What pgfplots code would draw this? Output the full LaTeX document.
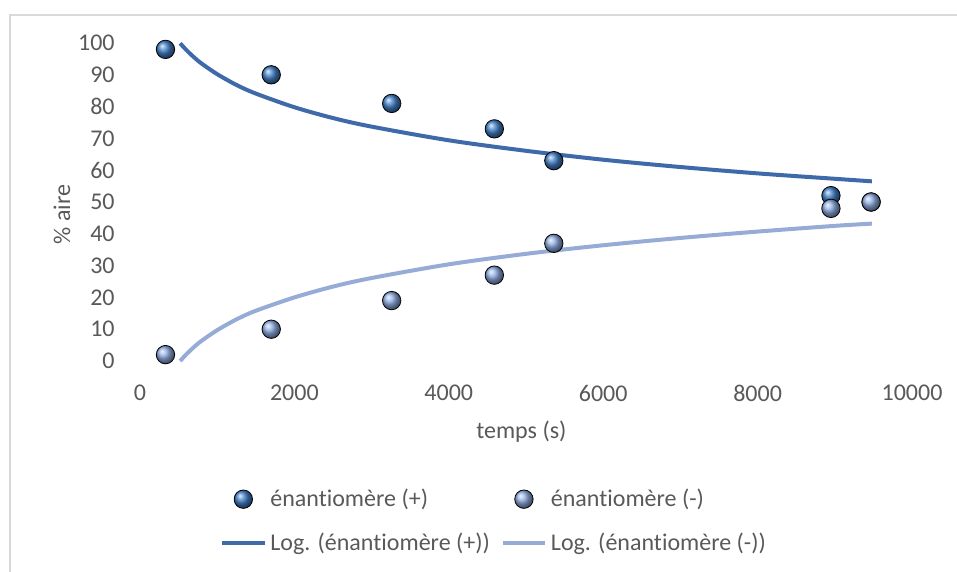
\documentclass[border=0pt]{standalone}
\usepackage{pgfplots}
\pgfplotsset{compat=1.18}
\usepackage{fontspec}
\setmainfont{Carlito}[Ligatures=NoCommon]
\definecolor{txt}{RGB}{89,89,89}
\definecolor{frame}{RGB}{217,217,217}
\definecolor{dkblue}{RGB}{62,106,170}
\definecolor{ltblue}{RGB}{150,172,214}
\definecolor{balldk}{RGB}{66,128,200}
\definecolor{balllt}{RGB}{145,175,228}
\begin{document}
\begin{tikzpicture}
\begin{scope}[x=0.5pt,y=-0.5pt]
\path[use as bounding box] (0,0) rectangle (957,572);
\draw[frame, line width=1pt] (10,572) -- (10,15) -- (957,15);
\end{scope}
\begin{axis}[
  at={(70pt,-180.5pt)}, anchor=south west,
  scale only axis, width=386pt, height=159pt,
  xmin=0, xmax=10000, ymin=0, ymax=100,
  xtick={0,2000,...,10000}, ytick={0,10,...,100},
  scaled x ticks=false,
  axis line style={draw=none}, major tick length=0pt,
  clip=false,
  font=\fontsize{12}{14.4}\selectfont, /pgf/number format/assume math mode=true,
  /pgf/number format/set thousands separator={},
  ticklabel style={text=txt},
  xticklabel style={anchor=north, inner sep=0pt, yshift=-12pt},
  yticklabel style={anchor=east, inner sep=0pt, xshift=-12.5pt},
  xlabel={temps (s)}, ylabel={\% aire},
  label style={text=txt},
  xlabel style={at={(axis description cs:0.494,-0.223)}, anchor=center},
  ylabel style={at={(axis description cs:-0.101,0.46)}, anchor=center},
  legend columns=2, legend cell align=left,
  legend image code/.code={\draw[mark repeat=2,mark phase=2,#1] plot coordinates {(0pt,0pt) (10.5pt,0pt) (21pt,0pt)};},
  legend style={at={(axis description cs:0.46,-0.503)}, anchor=center, draw=none, fill=none,
    text=txt, font=\fontsize{12}{14.4}\selectfont,
    /tikz/every even column/.append style={column sep=3.5pt}, row sep=7.5pt},
]
\addplot[only marks, mark=ball, mark size=4.6pt, ball color=balldk] coordinates {
(330,98) (1700,90) (3260,81) (4590,73) (5360,63) (8950,52) (9470,50)};
\addlegendentry{énantiomère (+)}
\addplot[only marks, mark=ball, mark size=4.6pt, ball color=balllt] coordinates {
(330,2) (1700,10) (3260,19) (4590,27) (5360,37) (8950,48) (9470,50)};
\addlegendentry{énantiomère (-)}
\addplot[dkblue, line width=2pt, no marks, smooth] coordinates {
(520,99.9) (600,97.8) (700,95.5) (800,93.5) (1000,90.2) (1250,86.8) (1500,84.1) (2000,79.8) (2500,76.4) (3000,73.7) (4000,69.4) (5000,66.1) (6000,63.3) (7000,61.0) (8000,59.0) (9000,57.3) (9480,56.5)};
\addlegendentry{Log. (énantiomère (+))}
\addplot[ltblue, line width=2pt, no marks, smooth] coordinates {
(520,0.0) (600,2.1) (700,4.4) (800,6.4) (1000,9.7) (1250,13.1) (1500,15.8) (2000,20.0) (2500,23.4) (3000,26.1) (4000,30.4) (5000,33.7) (6000,36.4) (7000,38.7) (8000,40.7) (9000,42.5) (9480,43.2)};
\addlegendentry{Log. (énantiomère (-))}
\end{axis}
\end{tikzpicture}
\end{document}
